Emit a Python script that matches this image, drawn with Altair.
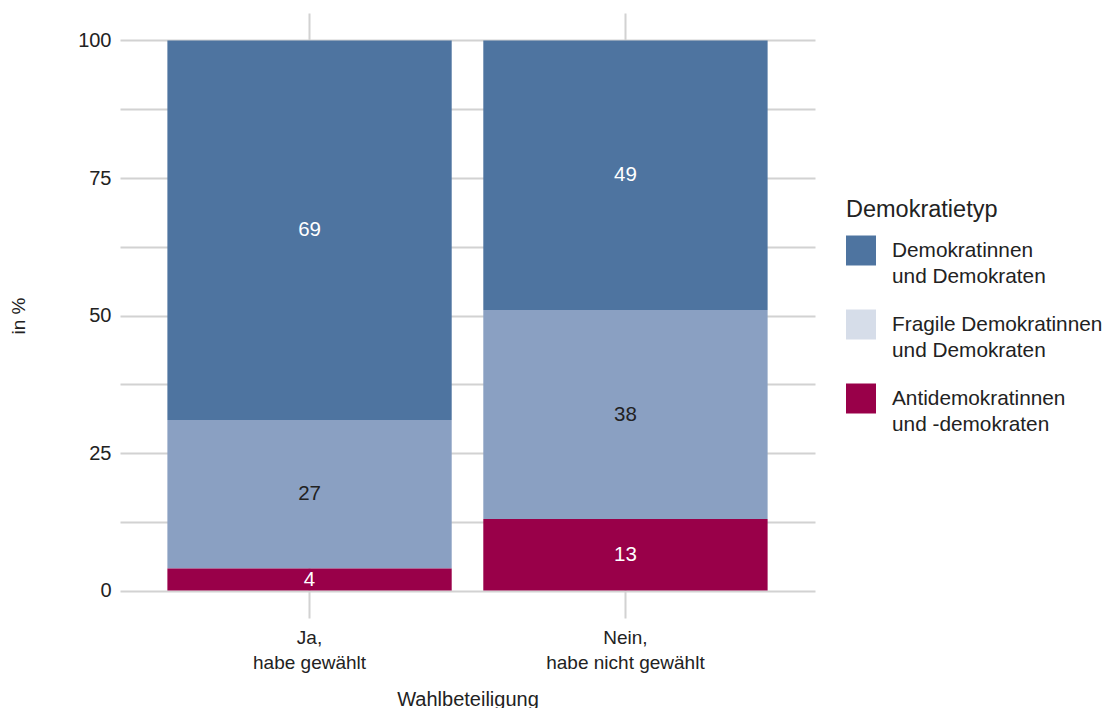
import altair as alt
import pandas as pd

kategorien = ["Ja,|habe gewählt", "Nein,|habe nicht gewählt"]
typen = ["Demokratinnen|und Demokraten", "Fragile Demokratinnen|und Demokraten", "Antidemokratinnen|und -demokraten"]
werte_ja = [69, 27, 4]
werte_nein = [49, 38, 13]
stapelreihenfolge = [3, 2, 1]
balkenfarben = ["#4e74a0", "#8aa0c2", "#990049"]
legendenfarben = ["#4e74a0", "#d6dde9", "#990049"]
textfarben = ["#ffffff", "#222222", "#ffffff"]
y_werte = [0, 12.5, 25, 37.5, 50, 62.5, 75, 87.5, 100]

rows = []
for kat, werte in zip(kategorien, [werte_ja, werte_nein]):
    for typ, w, o in zip(typen, werte, stapelreihenfolge):
        rows.append({"kat": kat, "typ": typ, "wert": w, "ord": o})
df = pd.DataFrame(rows)

FONT = "Liberation Sans"
GRID = "#d2d2d2"
TXT = "#222222"

x_enc = alt.X(
    "kat:N",
    sort=kategorien,
    scale=alt.Scale(paddingInner=0.1, paddingOuter=0.15),
    axis=alt.Axis(
        title="Wahlbeteiligung",
        labelExpr="split(datum.label, '|')",
        labelAngle=0,
        labelFontSize=19,
        labelLineHeight=25,
        labelPadding=10,
        labelColor=TXT,
        labelFont=FONT,
        ticks=False,
        domain=False,
        grid=True,
        gridColor=GRID,
        gridWidth=2,
        bandPosition=0.5,
        titleFontSize=20,
        titleFont=FONT,
        titleFontWeight="normal",
        titleColor=TXT,
        titleY=81,
        titleBaseline="middle",
    ),
)

y_scale = alt.Scale(domain=[-5, 105], nice=False, zero=False)

bars = alt.Chart(df).mark_bar().encode(
    x=x_enc,
    y=alt.Y(
        "wert:Q",
        stack="zero",
        scale=y_scale,
        axis=alt.Axis(
            title="in %",
            values=y_werte,
            labelExpr="datum.value % 25 == 0 ? datum.label : ''",
            labelFontSize=20,
            labelPadding=9,
            labelColor=TXT,
            labelFont=FONT,
            ticks=False,
            domain=False,
            gridColor=GRID,
            gridWidth=2,
            titleFontSize=19,
            titleFont=FONT,
            titleFontWeight="normal",
            titleColor=TXT,
            titleX=-102,
            titleY=302.5,
            titleBaseline="middle",
        ),
    ),
    fill=alt.Fill("ord:N", scale=alt.Scale(domain=stapelreihenfolge, range=balkenfarben), legend=None),
    order=alt.Order("ord:Q"),
)

legend_layer = alt.Chart(df).mark_square(size=0, opacity=1).encode(
    x=alt.X("kat:N", sort=kategorien),
    y=alt.Y("wert:Q", stack=None),
    color=alt.Color(
        "typ:N",
        scale=alt.Scale(domain=typen, range=legendenfarben),
        legend=alt.Legend(
            title="Demokratietyp",
            orient="none",
            legendX=726,
            legendY=185,
            direction="vertical",
            padding=0,
            titleFontSize=23.5,
            titleFont=FONT,
            titleFontWeight="normal",
            titleColor=TXT,
            titlePadding=14,
            labelFontSize=20.8,
            labelFont=FONT,
            labelColor=TXT,
            labelExpr="split(datum.label, '|')",
            labelOffset=16,
            labelLimit=400,
            symbolType="square",
            symbolSize=900,
            symbolStrokeWidth=0,
            symbolOpacity=1,
            rowPadding=23,
        ),
    ),
)

text = alt.Chart(df).transform_stack(
    stack="wert", groupby=["kat"], as_=["y0", "y1"], sort=[alt.SortField("ord", order="ascending")]
).transform_calculate(
    mitte="(datum.y0 + datum.y1) / 2"
).mark_text(fontSize=20.5, font=FONT, baseline="middle", align="center").encode(
    x=alt.X("kat:N", sort=kategorien),
    y=alt.Y("mitte:Q", scale=y_scale),
    text=alt.Text("wert:Q"),
    color=alt.condition(f"datum.typ == '{typen[1]}'", alt.value(textfarben[1]), alt.value(textfarben[0])),
)

chart = alt.layer(bars, legend_layer, text).properties(
    width=695,
    height=605,
    autosize=alt.AutoSizeParams(type="none"),
    padding={"left": 112, "top": 5, "right": 287, "bottom": 90},
    background="white",
).configure(style={"guide-label": {"lineHeight": 26}}).configure_view(stroke=None)

chart.save("out.html", embed_options={"renderer": "svg", "actions": False})
